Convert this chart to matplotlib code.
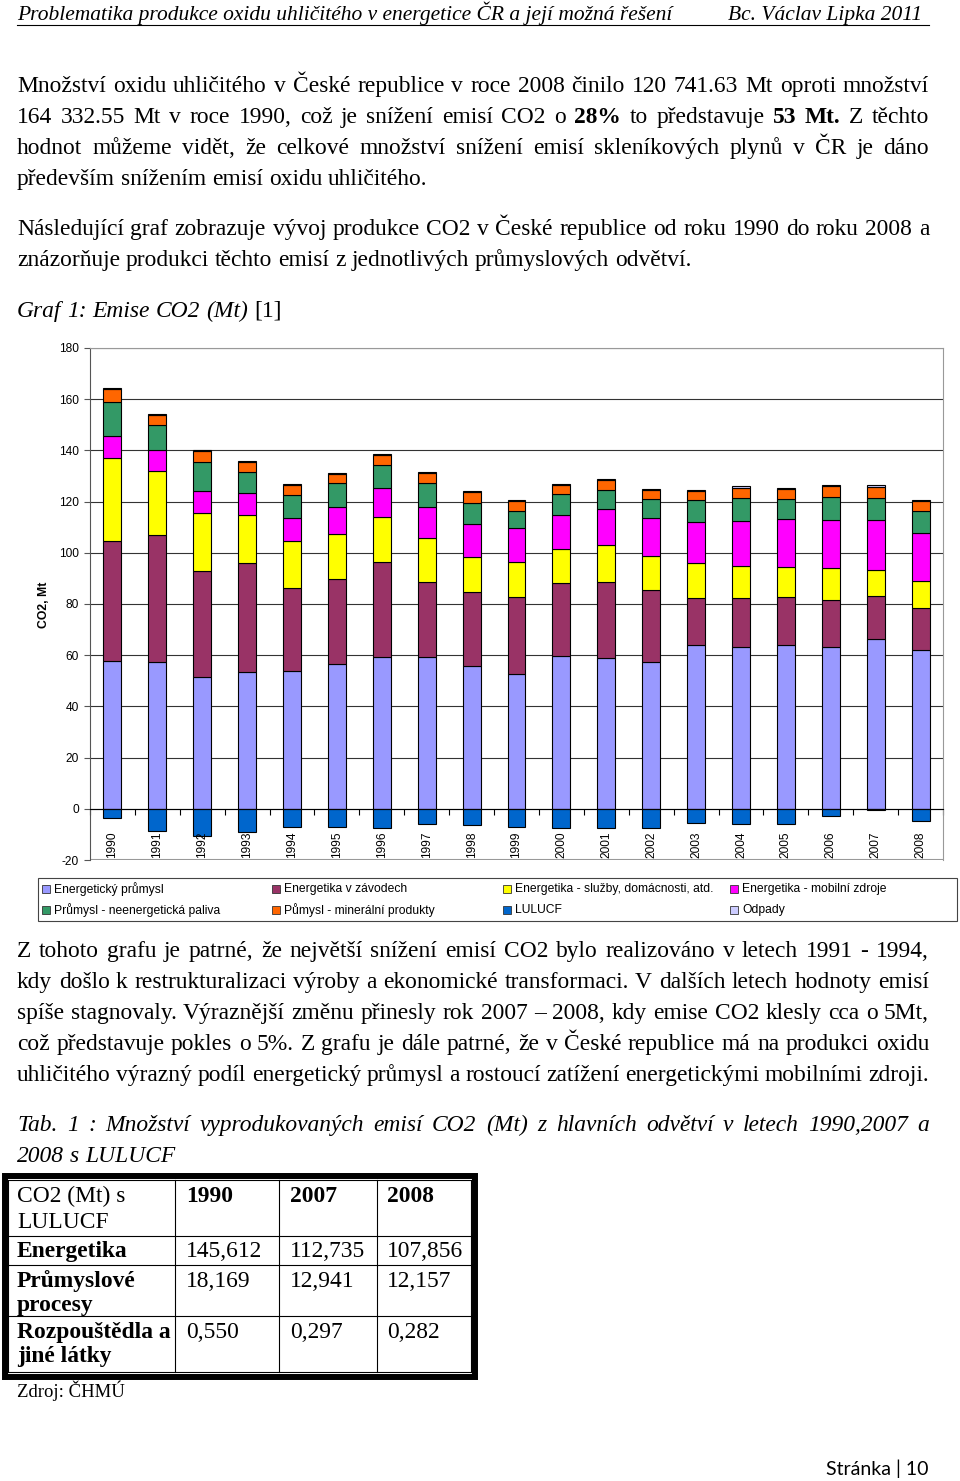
import numpy as np
import matplotlib
matplotlib.use('Agg')
import matplotlib.pyplot as plt
from matplotlib.patches import Rectangle

plt.rcParams['axes.unicode_minus'] = False

# data (Mt CO2)
years = [str(y) for y in range(1990, 2009)]
energeticky_prumysl = [57.8, 57.5, 51.4, 53.5, 53.7, 56.7, 59.4, 59.4, 55.7, 52.8, 59.8, 59.1, 57.5, 63.8, 63.1, 64.1, 63.1, 66.4, 62.2]
energetika_zavody = [46.7, 49.3, 41.3, 42.5, 32.7, 32.9, 37.0, 29.3, 28.9, 29.8, 28.3, 29.6, 27.9, 18.5, 19.1, 18.8, 18.4, 16.6, 16.1]
energetika_sluzby = [32.5, 25.1, 22.8, 18.8, 18.1, 17.6, 17.4, 17.0, 13.7, 13.8, 13.3, 14.2, 13.2, 13.7, 12.8, 11.7, 12.7, 10.2, 10.6]
energetika_mobilni = [8.6, 8.2, 8.7, 8.4, 9.0, 10.7, 11.5, 12.2, 12.8, 13.3, 13.4, 14.2, 14.9, 16.0, 17.4, 18.6, 18.6, 19.5, 19.0]
prumysl_paliva = [13.4, 9.7, 11.1, 8.2, 9.1, 9.2, 9.0, 9.3, 8.4, 6.6, 8.0, 7.4, 7.4, 8.6, 9.2, 7.7, 9.0, 8.6, 8.3]
prumysl_mineral = [4.9, 3.9, 4.3, 3.9, 3.7, 3.7, 4.0, 4.0, 4.3, 3.9, 3.7, 3.8, 3.7, 3.5, 3.9, 4.2, 4.1, 4.3, 4.0]
lulucf = [-3.4, -8.5, -10.7, -9.0, -7.0, -7.0, -7.4, -6.0, -6.4, -7.0, -7.4, -7.4, -7.4, -5.4, -5.8, -6.0, -3.0, -0.3, -4.7]
odpady = [0.4, 0.4, 0.4, 0.4, 0.4, 0.4, 0.4, 0.4, 0.4, 0.4, 0.4, 0.4, 0.4, 0.4, 0.4, 0.4, 0.4, 0.7, 0.4]

series_names = ['Energetický průmysl', 'Energetika v závodech', 'Energetika - služby, domácnosti, atd.',
                'Energetika - mobilní zdroje', 'Průmysl - neenergetická paliva', 'Půmysl - minerální produkty',
                'LULUCF', 'Odpady']
colors = ['#9999FF', '#993366', '#FFFF00', '#FF00FF', '#339966', '#FF6600', '#0066CC', '#CCCCFF']

# table
tab_cols = ['1990', '2007', '2008']
tab_rows = [['Energetika'], ['Průmyslové', 'procesy'], ['Rozpouštědla a', 'jiné látky']]
tab_vals = [['145,612', '112,735', '107,856'],
            ['18,169', '12,941', '12,157'],
            ['0,550', '0,297', '0,282']]

SERIF = 'Liberation Serif'
SANS = 'Liberation Sans'
W, H = 960, 1481
BODY = 16.9

fig = plt.figure(figsize=(W / 100, H / 100), dpi=100)
page = fig.add_axes([0, 0, 1, 1])
page.set_xlim(0, W)
page.set_ylim(H, 0)
page.axis('off')
renderer = fig.canvas.get_renderer()


def tokens(s):
    out = []
    for w in s.split(' '):
        if w.startswith('**'):
            out.append((w.strip('*'), True))
        else:
            out.append((w, False))
    return out


def line(y, s, justify=True, size=BODY, style='normal', x0=17, x1=929):
    toks = tokens(s)
    texts = []
    for w, b in toks:
        texts.append(page.text(0, y, w, fontsize=size, fontfamily=SERIF, fontstyle=style,
                                fontweight='bold' if b else 'normal', va='baseline', ha='left'))
    ws = [t.get_window_extent(renderer).width for t in texts]
    probe = page.text(0, 0, 'a a', fontsize=size, fontfamily=SERIF, fontstyle=style)
    probe2 = page.text(0, 0, 'aa', fontsize=size, fontfamily=SERIF, fontstyle=style)
    sp = probe.get_window_extent(renderer).width - probe2.get_window_extent(renderer).width
    probe.remove()
    probe2.remove()
    gap = (x1 - x0 - sum(ws)) / (len(ws) - 1) if justify and len(ws) > 1 else sp
    x = x0
    for t, w in zip(texts, ws):
        t.set_x(x)
        x += w + gap
    return x


# header
page.text(17, 20, 'Problematika produkce oxidu uhličitého v energetice ČR a její možná řešení',
          fontsize=15.5, fontfamily=SERIF, fontstyle='italic', va='baseline')
page.text(922, 20, 'Bc. Václav Lipka 2011', fontsize=15.5, fontfamily=SERIF, fontstyle='italic',
          va='baseline', ha='right')
page.plot([17, 929], [25, 25], color='black', lw=0.8)

# first paragraphs
line(92, 'Množství oxidu uhličitého v České republice v roce 2008 činilo 120 741.63 Mt oproti množství')
line(123, '164 332.55 Mt v roce 1990, což je snížení emisí CO2 o **28%** to představuje **53** **Mt.** Z těchto')
line(154, 'hodnot můžeme vidět, že celkové množství snížení emisí skleníkových plynů v ČR je dáno')
line(185, 'především snížením emisí oxidu uhličitého.', justify=False)
line(235, 'Následující graf zobrazuje vývoj produkce CO2 v České republice od roku 1990 do roku 2008 a')
line(266, 'znázorňuje produkci těchto emisí z jednotlivých průmyslových odvětví.', justify=False)
xe = line(317, 'Graf 1: Emise CO2 (Mt)', justify=False, style='italic')
page.text(xe, 317, '[1]', fontsize=BODY, fontfamily=SERIF, va='baseline')

# chart
ax = fig.add_axes([90 / W, 1 - 860 / H, 853 / W, 512 / H])
x = np.arange(len(years))
pos = [energeticky_prumysl, energetika_zavody, energetika_sluzby, energetika_mobilni,
       prumysl_paliva, prumysl_mineral]
bottom = np.zeros(len(years))
for vals, c in zip(pos, colors[:6]):
    ax.bar(x, vals, 0.4, bottom=bottom, color=c, edgecolor='black', linewidth=0.8, zorder=3)
    bottom += np.array(vals)
ax.bar(x, odpady, 0.4, bottom=bottom, color=colors[7], edgecolor='black', linewidth=0.8, zorder=3)
ax.bar(x, lulucf, 0.4, color=colors[6], edgecolor='black', linewidth=0.8, zorder=3)

ax.set_xlim(-0.5, 18.5)
ax.set_ylim(-20, 180)
ax.set_yticks(np.arange(-20, 181, 20))
ax.yaxis.grid(True, color='#333333', lw=0.8, zorder=0)
ax.set_axisbelow(True)
ax.tick_params(axis='y', length=4, width=0.8, color='#555555', pad=4, labelsize=8.6)
for lab in ax.get_yticklabels():
    lab.set_fontfamily(SANS)
ax.spines['bottom'].set_position(('data', 0))
ax.spines['bottom'].set_color('black')
ax.spines['bottom'].set_zorder(4)
ax.set_xticks(np.arange(-0.5, 18.6, 1))
ax.tick_params(axis='x', length=4, width=0.8, direction='out', labelbottom=False)
ax.spines['left'].set_color('#555555')
ax.spines['right'].set_color('#999999')
ax.spines['top'].set_color('#999999')
ax.axhline(-20, color='#999999', lw=1.5, zorder=1)
for i, yr in enumerate(years):
    ax.text(i, -19.3, yr, rotation=90, ha='center', va='bottom', fontsize=8.6, fontfamily=SANS)
page.text(44, 605, 'CO2, Mt', rotation=90, ha='center', va='center', fontsize=8.8,
          fontweight='bold', fontfamily=SANS)

# legend box
page.add_patch(Rectangle((38, 878), 919, 43, fill=False, edgecolor='#444444', lw=0.8))
col_x = [42, 272, 503, 730]
row_y = [889, 910]
for k, (name, c) in enumerate(zip(series_names, colors)):
    cx, cy = col_x[k % 4], row_y[k // 4]
    page.add_patch(Rectangle((cx, cy - 4), 8, 8, facecolor=c, edgecolor='#333333', lw=0.6))
    page.text(cx + 12, cy, name, fontsize=8.7, fontfamily=SANS, va='center', ha='left')

# text below chart
line(957, 'Z tohoto grafu je patrné, že největší snížení emisí CO2 bylo realizováno v letech 1991 - 1994,')
line(988, 'kdy došlo k restrukturalizaci výroby a ekonomické transformaci. V dalších letech hodnoty emisí')
line(1019, 'spíše stagnovaly. Výraznější změnu přinesly rok 2007 – 2008, kdy emise CO2 klesly cca o 5Mt,')
line(1050, 'což představuje pokles o 5%. Z grafu je dále patrné, že v České republice má na produkci oxidu')
line(1081, 'uhličitého výrazný podíl energetický průmysl a rostoucí zatížení energetickými mobilními zdroji.')
line(1131, 'Tab. 1 : Množství vyprodukovaných emisí CO2 (Mt) z hlavních odvětví v letech 1990,2007 a',
     style='italic')
line(1162, '2008 s LULUCF', justify=False, style='italic')

# table
page.add_patch(Rectangle((5, 1176), 470, 201, fill=False, edgecolor='black', lw=4.3))
xs = [8, 175, 279, 377, 471]
ys = [1180, 1236, 1265, 1316, 1372]
for xv in xs:
    page.plot([xv, xv], [ys[0], ys[-1]], color='black', lw=0.8)
for yv in ys:
    page.plot([xs[0], xs[-1]], [yv, yv], color='black', lw=0.8)
page.text(17, 1202, 'CO2 (Mt) s', fontsize=BODY, fontfamily=SERIF, va='baseline')
page.text(17, 1228, 'LULUCF', fontsize=BODY, fontfamily=SERIF, va='baseline')
for j, c in enumerate(tab_cols):
    page.text([186, 290, 387][j], 1202, c, fontsize=BODY, fontfamily=SERIF, fontweight='bold',
              va='baseline')
row_base = [1257, 1287, 1338]
for i, (lab, vals) in enumerate(zip(tab_rows, tab_vals)):
    for k, part in enumerate(lab):
        page.text(17, row_base[i] + 24 * k, part, fontsize=BODY, fontfamily=SERIF,
                  fontweight='bold', va='baseline')
    for j, v in enumerate(vals):
        page.text([186, 290, 387][j], row_base[i], v, fontsize=BODY, fontfamily=SERIF, va='baseline')
page.text(17, 1397, 'Zdroj: ČHMÚ', fontsize=13.5, fontfamily=SERIF, va='baseline')

# footer
page.text(929, 1475, 'Stránka | 10', fontsize=14, fontfamily='Lato', va='baseline', ha='right')

fig.savefig('out.png', dpi=100)
